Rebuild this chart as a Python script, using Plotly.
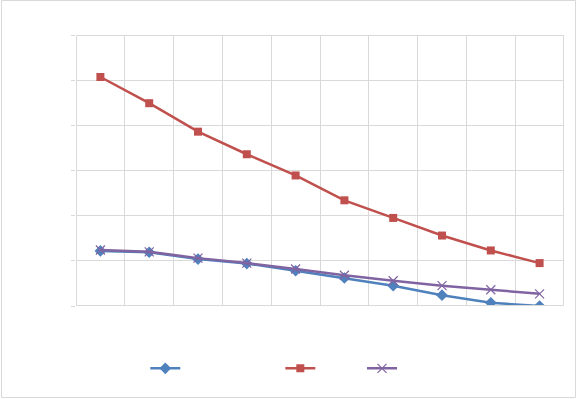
import plotly.graph_objects as go

categories = [1, 2, 3, 4, 5, 6, 7, 8, 9, 10]
series_a = [1.22, 1.19, 1.04, 0.94, 0.78, 0.62, 0.45, 0.24, 0.07, 0.00]
series_b = [5.07, 4.49, 3.86, 3.36, 2.89, 2.34, 1.95, 1.56, 1.23, 0.95]
series_c = [1.24, 1.20, 1.06, 0.95, 0.82, 0.68, 0.56, 0.45, 0.36, 0.27]
names = ["\u00a0" * 27, "\u00a0" * 11, "\u00a0" * 4]

W, H = 577, 399
L, R, T, B = 76, 13, 35, 93
pw, ph = W - L - R, H - T - B
hx, hy = 0.5 / pw, 0.5 / ph

fig = go.Figure()
fig.add_trace(go.Scatter(x=categories, y=series_a, name=names[0], mode="lines+markers",
                         line=dict(color="#4F81BD", width=2.5),
                         marker=dict(symbol="diamond", size=9, color="#4F81BD")))
fig.add_trace(go.Scatter(x=categories, y=series_b, name=names[1], mode="lines+markers",
                         line=dict(color="#C0504D", width=2.5),
                         marker=dict(symbol="square", size=8, color="#C0504D")))
fig.add_trace(go.Scatter(x=categories, y=series_c, name=names[2], mode="lines+markers",
                         line=dict(color="#8064A2", width=2.5),
                         marker=dict(symbol="x-thin-open", size=9, color="#8064A2",
                                     line=dict(color="#8064A2", width=1.2))))

border = dict(color="#d9d9d9", width=1)
fig.update_layout(
    width=W, height=H,
    margin=dict(l=L, r=R, t=T, b=B),
    paper_bgcolor="white", plot_bgcolor="white",
    showlegend=True,
    legend=dict(orientation="h", x=0.142, xanchor="left", y=-0.23, yanchor="middle",
                font=dict(family="Liberation Sans", size=12, color="#595959"),
                itemwidth=30, traceorder="normal"),
    xaxis=dict(range=[0.5, 10.5], tick0=0.5, dtick=1, showticklabels=False,
               showgrid=True, gridcolor="#d9d9d9", gridwidth=1, zeroline=False,
               showline=False),
    yaxis=dict(range=[0, 6], dtick=1, showticklabels=False,
               showgrid=True, gridcolor="#d9d9d9", gridwidth=1, zeroline=False,
               ticks="outside", ticklen=4, tickcolor="#d9d9d9", showline=False),
    shapes=[
        dict(type="rect", xref="paper", yref="paper",
             x0=(1.5 - L) / pw, x1=(575.5 - L) / pw,
             y0=(H - B - 397.5) / ph, y1=(H - B - 0.5) / ph,
             line=border, fillcolor="rgba(0,0,0,0)"),
        dict(type="line", xref="paper", yref="paper", x0=hx, x1=1 - hx, y0=1 - hy, y1=1 - hy, line=border),
        dict(type="line", xref="paper", yref="paper", x0=hx, x1=1 - hx, y0=hy, y1=hy, line=border),
        dict(type="line", xref="paper", yref="paper", x0=hx, x1=hx, y0=hy, y1=1 - hy, line=border),
        dict(type="line", xref="paper", yref="paper", x0=1 - hx, x1=1 - hx, y0=hy, y1=1 - hy, line=border),
    ],
)

fig.write_html("out.html", config={"displayModeBar": False},
               post_script="document.body.style.margin='0';document.body.style.overflow='hidden';")
